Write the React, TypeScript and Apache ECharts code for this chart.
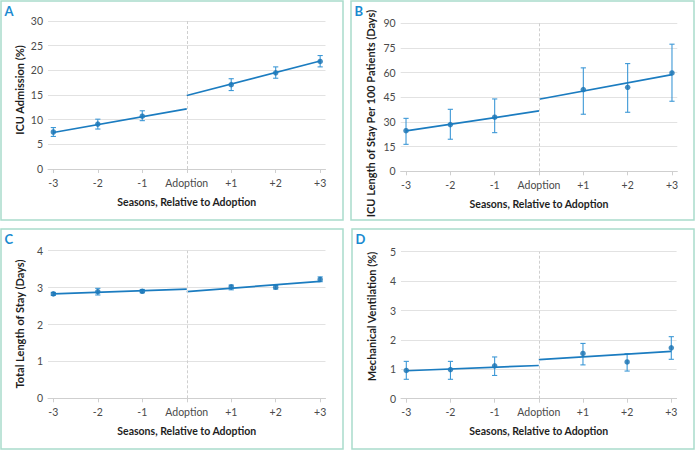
import React, { useEffect, useRef } from "react";
import * as echarts from "echarts";

const xTicks = [-3, -2, -1, 0, 1, 2, 3];
const xTickLabels = ["-3", "-2", "-1", "Adoption", "+1", "+2", "+3"];
const seasons = [-3, -2, -1, 1, 2, 3];

// Panel A: ICU Admission (%)
const aPoints = [7.5, 9.1, 10.7, 17.1, 19.5, 21.8];
const aLow = [6.6, 8.1, 9.8, 15.9, 18.4, 20.7];
const aHigh = [8.4, 10.1, 11.8, 18.3, 20.7, 23.0];
const aPre = [7.4, 12.2];
const aPost = [14.9, 21.9];

// Panel B: ICU Length of Stay per 100 Patients (Days)
const bPoints = [24.7, 28.4, 32.9, 49.7, 51.1, 59.8];
const bLow = [16.4, 19.5, 23.5, 34.7, 35.9, 42.6];
const bHigh = [32.2, 37.7, 44.0, 62.9, 65.5, 77.3];
const bPre = [24.6, 36.7];
const bPost = [43.8, 58.8];

// Panel C: Total Length of Stay (Days)
const cPoints = [2.83, 2.89, 2.9, 3.02, 3.01, 3.22];
const cLow = [2.79, 2.8, 2.86, 2.94, 2.96, 3.16];
const cHigh = [2.87, 2.98, 2.95, 3.07, 3.06, 3.29];
const cPre = [2.83, 2.96];
const cPost = [2.89, 3.17];

// Panel D: Mechanical Ventilation (%)
const dPoints = [0.96, 0.99, 1.12, 1.54, 1.25, 1.73];
const dLow = [0.66, 0.66, 0.79, 1.15, 0.94, 1.34];
const dHigh = [1.27, 1.27, 1.42, 1.88, 1.53, 2.11];
const dPre = [0.95, 1.13];
const dPost = [1.33, 1.61];

const LINE = "#1b7cc0";
const POINT = "#1570b2";
const ERR = "#3d98d6";
const GRIDC = "#e2e2e2";
const AXISC = "#cfcfcf";
const TEXT = "#4a4a4a";
const TITLE = "#1e1e1e";
const BORDER = "#a9dccb";
const FONT = "Lato, 'Open Sans', sans-serif";

type Panel = {
  letter: string;
  yName: string;
  max: number;
  interval: number;
  grid: { left: number; top: number; width: number; height: number };
  yTitlePos: [number, number];
  points: number[];
  low: number[];
  high: number[];
  pre: number[];
  post: number[];
};

const panels: Panel[] = [
  { letter: "A", yName: "ICU Admission (%)", max: 30, interval: 5,
    grid: { left: 48, top: 21, width: 277.5, height: 148 }, yTitlePos: [19.5, 90],
    points: aPoints, low: aLow, high: aHigh, pre: aPre, post: aPost },
  { letter: "B", yName: "ICU Length of Stay Per 100 Patients (Days)", max: 90, interval: 15,
    grid: { left: 400.7, top: 23.3, width: 276.6, height: 148 }, yTitlePos: [370.5, 113.5],
    points: bPoints, low: bLow, high: bHigh, pre: bPre, post: bPost },
  { letter: "C", yName: "Total Length of Stay (Days)", max: 4, interval: 1,
    grid: { left: 48, top: 250.7, width: 277.5, height: 147.6 }, yTitlePos: [19.5, 324],
    points: cPoints, low: cLow, high: cHigh, pre: cPre, post: cPost },
  { letter: "D", yName: "Mechanical Ventilation (%)", max: 5, interval: 1,
    grid: { left: 401, top: 251.7, width: 275.6, height: 147 }, yTitlePos: [371, 316.5],
    points: dPoints, low: dLow, high: dHigh, pre: dPre, post: dPost },
];

const boxes = [
  { x: 1, y: 1, w: 342, h: 219 },
  { x: 351, y: 1, w: 343, h: 219 },
  { x: 1, y: 229, w: 342, h: 220 },
  { x: 352, y: 229, w: 342, h: 220 },
];

export default function App() {
  const ref = useRef<HTMLDivElement>(null);
  useEffect(() => {
    if (!ref.current) return;
    const chart = echarts.init(ref.current, undefined, { renderer: "svg" });
    const grids: any[] = [];
    const xAxes: any[] = [];
    const yAxes: any[] = [];
    const series: any[] = [];
    panels.forEach((p, i) => {
      grids.push({ ...p.grid, containLabel: false, outerBoundsMode: "none" });
      xAxes.push({
        type: "value", gridIndex: i, min: -3.12, max: 3.12,
        name: "Seasons, Relative to Adoption", nameLocation: "middle", nameGap: 27,
        nameTextStyle: { fontFamily: FONT, fontSize: 10.5, fontWeight: "bold", color: TITLE },
        axisLine: { show: true, lineStyle: { color: AXISC, width: 1 } },
        axisTick: { show: true, customValues: xTicks, length: 4, lineStyle: { color: AXISC } },
        axisLabel: {
          customValues: xTicks, margin: 8, fontFamily: FONT, fontSize: 10.5, color: TEXT,
          formatter: (v: number) => xTickLabels[xTicks.indexOf(Math.round(v))] ?? "",
        },
        splitLine: { show: false },
      });
      yAxes.push({
        type: "value", gridIndex: i, min: 0, max: p.max, interval: p.interval,
        axisLine: { show: false }, axisTick: { show: false },
        axisLabel: { margin: 5, fontFamily: FONT, fontSize: 10.5, color: TEXT },
        splitLine: { show: true, lineStyle: { color: GRIDC, width: 1 } },
      });
      series.push({
        type: "line", xAxisIndex: i, yAxisIndex: i, silent: true,
        data: [[-3, p.pre[0]], [0, p.pre[1]]], showSymbol: false, symbol: "none",
        lineStyle: { color: LINE, width: 1.7 },
        markLine: {
          silent: true, symbol: "none", label: { show: false },
          lineStyle: { color: "#cfcfcf", type: [3, 2], width: 1 },
          data: [{ xAxis: 0 }],
        },
      });
      series.push({
        type: "line", xAxisIndex: i, yAxisIndex: i, silent: true,
        data: [[0, p.post[0]], [3, p.post[1]]], showSymbol: false, symbol: "none",
        lineStyle: { color: LINE, width: 1.7 },
      });
      series.push({
        type: "custom", xAxisIndex: i, yAxisIndex: i, silent: true,
        data: seasons.map((s, k) => [s, p.low[k], p.high[k]]),
        renderItem: (params: any, api: any) => {
          const lo = api.coord([api.value(0), api.value(1)]);
          const hi = api.coord([api.value(0), api.value(2)]);
          const cw = 2.6;
          const style = { stroke: ERR, lineWidth: 1.1 };
          return {
            type: "group",
            children: [
              { type: "line", shape: { x1: lo[0], y1: lo[1], x2: hi[0], y2: hi[1] }, style },
              { type: "line", shape: { x1: lo[0] - cw, y1: lo[1], x2: lo[0] + cw, y2: lo[1] }, style },
              { type: "line", shape: { x1: hi[0] - cw, y1: hi[1], x2: hi[0] + cw, y2: hi[1] }, style },
            ],
          };
        },
      });
      series.push({
        type: "scatter", xAxisIndex: i, yAxisIndex: i, silent: true,
        data: seasons.map((s, k) => [s, p.points[k]]),
        symbol: "circle", symbolSize: 5.5,
        itemStyle: { color: POINT },
      });
    });
    const graphic: any[] = [];
    boxes.forEach((b) => {
      graphic.push({
        type: "rect", shape: { x: b.x, y: b.y, width: b.w, height: b.h },
        style: { fill: "none", stroke: BORDER, lineWidth: 1.5 }, silent: true,
      });
    });
    panels.forEach((p, i) => {
      graphic.push({
        type: "text", x: boxes[i].x + 3.5, y: boxes[i].y + 3,
        style: { text: p.letter, fill: "#1a8ad0", font: `bold 13px ${FONT}` },
        silent: true,
      });
      graphic.push({
        type: "text", x: p.yTitlePos[0], y: p.yTitlePos[1], rotation: Math.PI / 2,
        style: {
          text: p.yName, fill: TITLE, font: `bold 11px ${FONT}`,
          textAlign: "center", textVerticalAlign: "middle",
        },
        silent: true,
      });
    });
    chart.setOption({
      animation: false,
      backgroundColor: "#ffffff",
      grid: grids, xAxis: xAxes, yAxis: yAxes, series, graphic,
    });
    return () => chart.dispose();
  }, []);
  return (
    <div style={{ position: "fixed", left: 0, top: 0 }}>
      <div ref={ref} style={{ width: 696, height: 451 }} />
    </div>
  );
}
